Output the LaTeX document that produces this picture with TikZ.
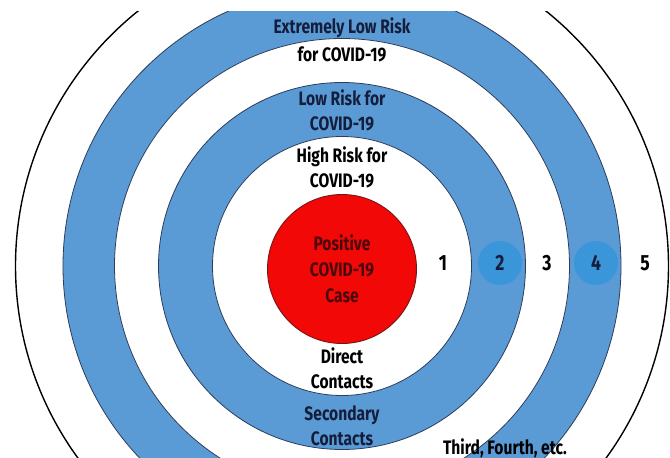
\documentclass[tikz,border=0pt]{standalone}
\usepackage{fontspec}
\setmainfont{Fira Sans}[FakeStretch=0.8]
\definecolor{ringblue}{RGB}{91,155,213}
\definecolor{spotblue}{RGB}{58,150,216}
\definecolor{ringedge}{RGB}{45,60,90}
\definecolor{casered}{RGB}{243,8,8}
\definecolor{caseedge}{RGB}{120,20,20}
\definecolor{casetext}{RGB}{75,8,8}
\definecolor{navy}{RGB}{20,30,60}
\tikzset{
  ringline/.style={draw=ringedge, line width=0.8pt},
  lbl/.style={font=\fontsize{19.5}{25}\selectfont\bfseries, align=center, inner sep=0pt},
  numlbl/.style={font=\fontsize{22}{22}\selectfont\bfseries, inner sep=0pt},
  spot/.style={circle, fill=spotblue, minimum size=44pt, inner sep=0pt}
}
\begin{document}
\begin{tikzpicture}[x=1pt,y=-1pt]
\useasboundingbox (0,0) rectangle (670,458);
\coordinate (c) at (342,266);
\begin{scope}
\clip (0,11) rectangle (670,458);
\draw[black, line width=1.4pt, fill=white] (c) circle[radius=326.5pt];
\fill[ringblue] (c) circle[radius=279pt];
\draw[ringline] (c) circle[radius=279pt];
\draw[ringline, fill=white] (c) circle[radius=227.5pt];
\draw[ringline, fill=ringblue] (c) circle[radius=183.5pt];
\draw[ringline, fill=white] (c) circle[radius=129.5pt];
\end{scope}
\node[circle, draw=caseedge, line width=0.9pt, fill=casered, minimum size=149pt, inner sep=0pt,
      font=\fontsize{19.5}{26}\selectfont\bfseries, text=casetext, align=center] (case) at (342,269) {Positive\\COVID-19\\Case};
\node[lbl, text=navy] (elr) at (342,28) {Extremely Low Risk};
\node[lbl] (elr2) at (342,54) {for COVID-19};
\node[lbl, text=navy] (lr) at (342,110) {Low Risk for\\COVID-19};
\node[lbl] (hr) at (342,157) {High Risk for};
\node[lbl] (hr2) at (342,181) {COVID-19};
\node[lbl] (dc) at (342,368) {Direct\\Contacts};
\node[lbl, text=navy] (sc) at (342,426) {Secondary\\Contacts};
\node[lbl, anchor=base] (tf) at (505,454) {Third, Fourth, etc.};
\node[spot] (s2) at (500,263) {};
\node[spot] (s4) at (596,263) {};
\node[numlbl] (n1) at (443,263) {1};
\node[numlbl, text=navy] (n2) at (500,263) {2};
\node[numlbl] (n3) at (547,263) {3};
\node[numlbl, text=navy] (n4) at (596,263) {4};
\node[numlbl] (n5) at (645,263) {5};
\end{tikzpicture}
\end{document}
